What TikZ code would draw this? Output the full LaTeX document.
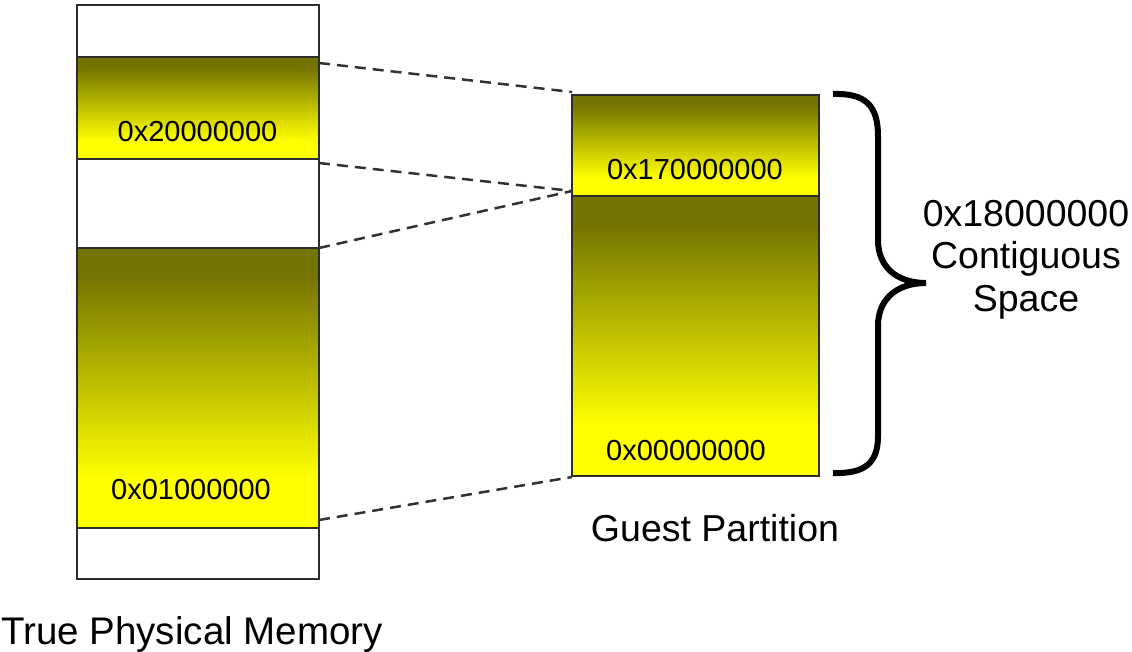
\documentclass[tikz,border=0pt]{standalone}
\usepackage{fontspec}
\setmainfont{Liberation Sans}
\usetikzlibrary{calc}
\definecolor{darkol}{RGB}{116,116,0}
\definecolor{brightyel}{RGB}{255,255,0}
\definecolor{edgegray}{RGB}{45,45,45}
\definecolor{dashgray}{RGB}{50,50,50}
\pgfdeclareverticalshading{yelgrad}{100bp}{color(0bp)=(brightyel); color(34bp)=(brightyel); color(70bp)=(darkol); color(100bp)=(darkol)}
\tikzset{
  seg/.style={draw=edgegray, line width=1.5pt, inner sep=0pt, outer sep=0pt, minimum width=242pt},
  segr/.style={seg, minimum width=247pt},
  whiteseg/.style={fill=white},
  yelseg/.style={shading=yelgrad},
  hexlabel/.style={anchor=base, inner sep=0pt, font=\fontsize{29}{34}\selectfont},
  biglabel/.style={anchor=base, inner sep=0pt, font=\fontsize{37.5}{42}\selectfont},
  mapline/.style={draw=dashgray, line width=2.5pt, dash pattern=on 11pt off 7pt},
  bracestyle/.style={draw=black, line width=6pt}
}
\begin{document}
\begin{tikzpicture}[x=1pt, y=-1pt]
\useasboundingbox (0,0) rectangle (1132,652);
% True physical memory column
\node[seg, whiteseg, minimum height=52pt]  (lw1) at (198,31) {};
\node[seg, yelseg,   minimum height=102pt] (ly1) at (198,108) {};
\node[seg, whiteseg, minimum height=89pt]  (lw2) at (198,203.5) {};
\node[seg, yelseg,   minimum height=280pt] (ly2) at (198,388) {};
\node[seg, whiteseg, minimum height=51pt]  (lw3) at (198,553.5) {};
% Guest partition column
\node[segr, yelseg, minimum height=101pt] (ry1) at (695.5,145.5) {};
\node[segr, yelseg, minimum height=280pt] (ry2) at (695.5,336) {};
% hex labels
\node[hexlabel] (h1) at (197.5,142) {0x20000000};
\node[hexlabel] (h2) at (191,499) {0x01000000};
\node[hexlabel] (h3) at (695,180) {0x170000000};
\node[hexlabel] (h4) at (686,460) {0x00000000};
% connector end points
\coordinate (a1) at ($(ly1.north east)+(0,6)$);
\coordinate (b1) at ($(ry1.north west)+(0,-3)$);
\coordinate (a2) at ($(ly1.south east)+(0,4)$);
\coordinate (b2) at ($(ry2.north west)+(0,-5)$);
\coordinate (a3) at (ly2.north east);
\coordinate (a4) at ($(ly2.south east)+(0,-8)$);
\coordinate (b4) at ($(ry2.south west)+(0,1)$);
\draw[mapline] (a1) -- (b1);
\draw[mapline] (a2) -- (b2);
\draw[mapline] (a3) -- (b2);
\draw[mapline] (a4) -- (b4);
% brace
\coordinate (bt) at (833,94);
\coordinate (btip) at (926,283);
\coordinate (bb) at (833,473);
\draw[bracestyle] (bt) .. controls (866,93) and (878,106) .. (878,136)
  -- (878,240) .. controls (878,268) and (898,283) .. (btip)
  .. controls (898,283) and (878,298) .. (878,326)
  -- (878,436) .. controls (878,462) and (866,474) .. (bb);
% labels
\node[biglabel] (s1) at (1026,227) {0x18000000};
\node[biglabel] (s2) at (1026,269) {Contiguous};
\node[biglabel] (s3) at (1026,311) {Space};
\node[biglabel] (gp) at (715,541) {Guest Partition};
\node[biglabel, font=\fontsize{38.5}{42}\selectfont] (tp) at (192,644) {True Physical Memory};
\end{tikzpicture}
\end{document}
